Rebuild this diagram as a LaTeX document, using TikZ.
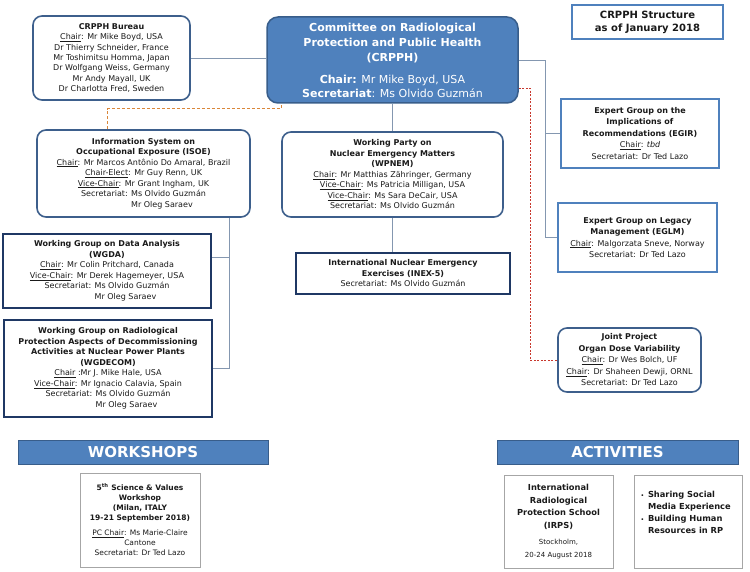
\documentclass[tikz,border=0pt]{standalone}
\usepackage{fontspec}
\setmainfont{DejaVu Sans}
\usepackage{amsmath}

\definecolor{oecdblue}{HTML}{4F81BD}
\definecolor{oecdedge}{HTML}{385D8A}
\definecolor{navyedge}{HTML}{1F3864}
\definecolor{roundedge}{HTML}{3D5F8C}
\definecolor{linkgray}{HTML}{8497B0}
\definecolor{orgdash}{HTML}{D9863A}
\definecolor{reddash}{HTML}{C8372D}
\definecolor{boxgray}{HTML}{A6A6A6}
\definecolor{inktext}{HTML}{1A1A1A}

\tikzset{
  box/.style={rectangle, inner sep=0pt, align=center, text=inktext, fill=white},
  roundbox/.style={box, draw=roundedge, line width=1.6pt, rounded corners=9pt},
  navybox/.style={box, draw=navyedge, line width=1.8pt},
  bluebox/.style={box, draw=oecdblue, line width=2pt},
  graybox/.style={box, draw=boxgray, line width=0.8pt},
  banner/.style={rectangle, inner sep=0pt, fill=oecdblue, draw=oecdedge, line width=1pt,
    text=white, font=\fontsize{15}{18}\selectfont\bfseries},
  smalltext/.style={font=\fontsize{8}{10.5}\selectfont},
  conn/.style={draw=linkgray, line width=0.9pt},
  orgline/.style={draw=orgdash, line width=1pt, dash pattern=on 3pt off 2pt},
  redline/.style={draw=reddash, line width=0.9pt, dash pattern=on 2pt off 1.5pt},
}
\newcommand\ch[1]{\underline{#1}}
\newcommand\bigb[1]{{\fontsize{11}{15}\selectfont\bfseries #1}}
\newcommand\smallr[1]{{\mdseries\fontsize{7}{9.5}\selectfont #1}}
\newcommand\secolv{Secretariat: Ms Olvido Guzmán}
\newcommand\secsar{\secolv\\\phantom{Secretariat: }\rlap{Mr Oleg Saraev}\phantom{Ms Olvido Guzmán}}

\begin{document}
\begin{tikzpicture}[x=1pt,y=-1pt]
\useasboundingbox (0,0) rectangle (750,572);
\path
(111.5,58) node[roundbox, minimum width=157pt, minimum height=84pt, font=\fontsize{8}{10.3}\selectfont] (bureau)
  {\textbf{CRPPH Bureau}\\\ch{Chair}: Mr Mike Boyd, USA\\Dr Thierry Schneider, France\\
   Mr Toshimitsu  Homma,  Japan\\Dr Wolfgang Weiss, Germany\\Mr Andy Mayall, UK\\Dr Charlotta Fred, Sweden}
(392.5,60) node[box, fill=oecdblue, draw=oecdedge, line width=1.5pt, rounded corners=11pt, text=white,
  minimum width=251pt, minimum height=86pt, font=\fontsize{11}{14}\selectfont] (crpph)
  {\bigb{Committee on Radiological}\\[1pt]\bigb{Protection and Public Health}\\[1pt]\bigb{(CRPPH)}\\[8pt]
   \textbf{Chair:} Mr Mike Boyd, USA\\\textbf{Secretariat}: Ms Olvido Guzmán}
(647.5,22) node[bluebox, line width=1.6pt, minimum width=151pt, minimum height=34pt, font=\fontsize{10}{13}\selectfont\bfseries] (struct)
  {CRPPH  Structure\\as of January 2018}
(143.5,173.5) node[roundbox, smalltext, minimum width=213pt, minimum height=87pt] (isoe)
  {\textbf{Information System on}\\\textbf{Occupational Exposure (ISOE)}\\
   \ch{Chair}: Mr Marcos Antônio Do Amaral, Brazil\\\ch{Chair-Elect}: Mr Guy Renn, UK\\
   \ch{Vice-Chair}: Mr Grant Ingham, UK\\\secsar}
(392.5,174.5) node[roundbox, smalltext, minimum width=221pt, minimum height=85pt] (wpnem)
  {\textbf{Working Party on}\\\textbf{Nuclear Emergency Matters}\\\textbf{(WPNEM)}\\
   \ch{Chair}: Mr Matthias Zähringer, Germany\\\ch{Vice-Chair}: Ms Patricia Milligan,  USA\\
   \ch{Vice-Chair}: Ms Sara DeCair, USA\\\secolv}
(640,133.5) node[bluebox, minimum width=158pt, minimum height=69pt, font=\fontsize{8}{11.5}\selectfont] (egir)
  {\textbf{Expert Group on the}\\\textbf{Implications of}\\\textbf{Recommendations  (EGIR)}\\
   \ch{Chair}: \textit{tbd}\\Secretariat: Dr Ted Lazo}
(637.5,237.5) node[bluebox, minimum width=159pt, minimum height=69pt, font=\fontsize{8}{11.5}\selectfont] (eglm)
  {\textbf{Expert Group on Legacy}\\\textbf{Management (EGLM)}\\
   \ch{Chair}: Malgorzata Sneve, Norway\\Secretariat: Dr Ted Lazo}
(107,271) node[navybox, smalltext, minimum width=208pt, minimum height=74pt] (wgda)
  {\textbf{Working Group on Data Analysis}\\\textbf{(WGDA)}\\\ch{Chair}: Mr  Colin Pritchard, Canada\\
   \ch{Vice-Chair}: Mr Derek Hagemeyer, USA\\\secsar}
(403,273.5) node[navybox, smalltext, minimum width=214pt, minimum height=41pt] (inex)
  {\textbf{International Nuclear Emergency}\\\textbf{Exercises (INEX-5)}\\\secolv}
(108,368.5) node[navybox, smalltext, minimum width=208pt, minimum height=97pt] (wgdecom)
  {\textbf{Working Group on Radiological}\\\textbf{Protection Aspects of Decommissioning}\\
   \textbf{Activities at Nuclear Power Plants}\\\textbf{(WGDECOM)}\\\ch{Chair} :Mr J. Mike Hale, USA\\
   \ch{Vice-Chair}: Mr Ignacio Calavia, Spain\\\secsar}
(629.5,360) node[roundbox, minimum width=143pt, minimum height=64pt, font=\fontsize{8}{11.5}\selectfont] (joint)
  {\textbf{Joint Project}\\\textbf{Organ Dose Variability}\\\ch{Chair}: Dr  Wes Bolch, UF\\
   \ch{Chair}: Dr  Shaheen Dewji, ORNL\\Secretariat: Dr Ted Lazo}
(143,452) node[banner, minimum width=250pt, minimum height=24pt] (workshops) {WORKSHOPS}
(140,520) node[graybox, minimum width=120pt, minimum height=94pt, font=\fontsize{7.5}{10}\selectfont] (svws)
  {\textbf{5\textsuperscript{th} Science \& Values}\\\textbf{Workshop}\\\textbf{(Milan, ITALY}\\
   \textbf{19-21 September 2018)}\\[5pt]
   \ch{PC Chair}: Ms Marie-Claire\\Cantone\\Secretariat: Dr Ted Lazo}
(617.5,452) node[banner, minimum width=241pt, minimum height=24pt] (activities) {ACTIVITIES}
(558.5,521.5) node[graybox, minimum width=109pt, minimum height=93pt, font=\fontsize{8.3}{12.5}\selectfont\bfseries] (irps)
  {International\\Radiological\\Protection School\\(IRPS)\\[4pt]
   \smallr{Stockholm,}\\\smallr{20-24 August 2018}}
(688,521.5) node[graybox, minimum width=108pt, minimum height=93pt] (media) {};
\node[anchor=north west, inner sep=0pt, text=inktext, font=\fontsize{8.3}{12}\selectfont\bfseries,
  xshift=7pt, yshift=-14pt] (mediatext) at (media.north west)
  {\begin{tabular}{@{}l@{\hspace{4pt}}l@{}}
   {\fontsize{5}{5}\selectfont\textbullet} & Sharing Social\\ & Media Experience\\
   {\fontsize{5}{5}\selectfont\textbullet} & Building  Human\\ & Resources in RP
   \end{tabular}};

% tree lines
\coordinate (rbus) at (545,60);
\coordinate (lbus) at (229,257);
\draw[conn] (bureau.east) -- (bureau.east -| crpph.west);
\draw[conn] (crpph.east) -- (rbus) |- (eglm.west);
\draw[conn] (rbus |- egir.west) -- (egir.west);
\draw[conn] (crpph) -- (wpnem);
\draw[conn] (wpnem.south) -- (wpnem.south |- inex.north);
\draw[conn] (lbus |- isoe.south) -- (lbus |- wgdecom.east) -- (wgdecom.east);
\draw[conn] (lbus) -- (lbus -| wgda.east);
% dashed links
\coordinate (oa) at (107,109);
\coordinate (ob) at (281,109);
\draw[orgline] (oa |- isoe.north) -- (oa) -- (ob) -- (ob |- crpph.south);
\coordinate (ra) at (530,88);
\draw[redline] (ra -| crpph.east) -- (ra) |- (joint.west);
\end{tikzpicture}
\end{document}
